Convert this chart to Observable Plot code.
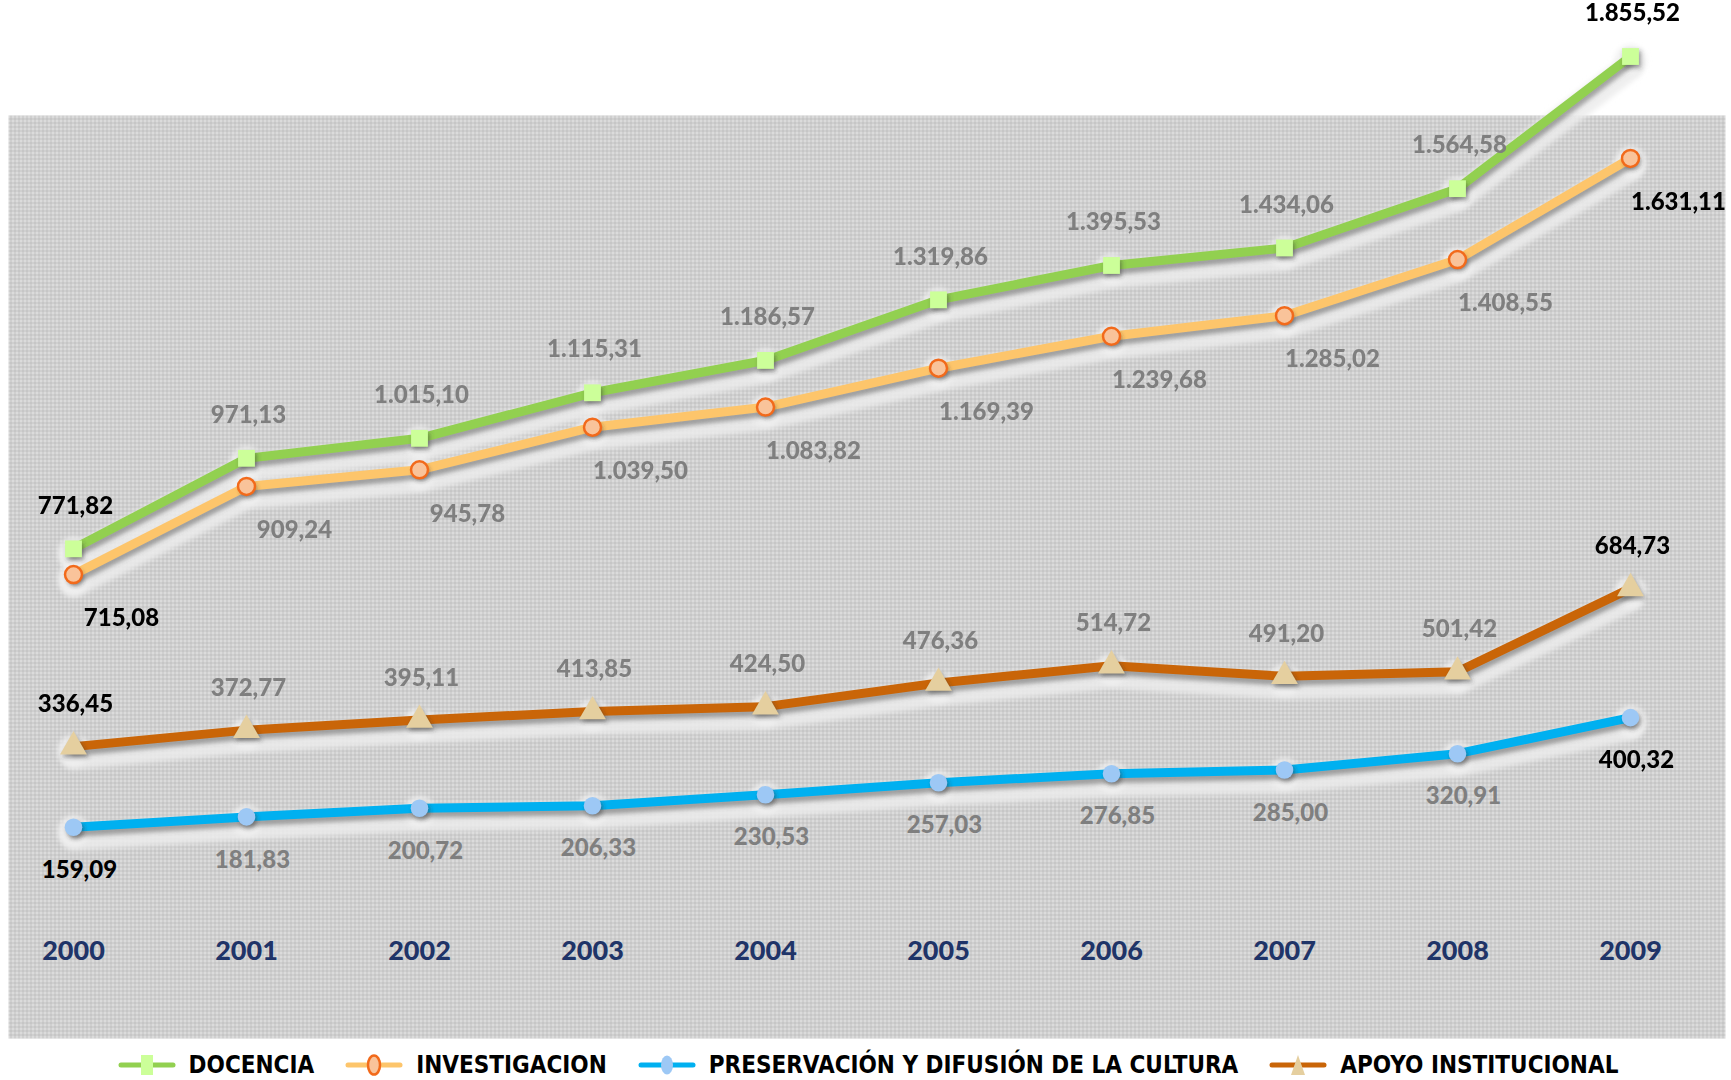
<!DOCTYPE html>
<html><head><meta charset="utf-8">
<script src="https://cdn.jsdelivr.net/npm/d3@7"></script>
<script src="https://cdn.jsdelivr.net/npm/@observablehq/plot@0.6"></script>
<style>
html,body{margin:0;padding:0;background:#fff;width:1731px;height:1080px;overflow:hidden}
#chart svg{display:block;overflow:visible}
#legend{display:flex;justify-content:center;align-items:center;height:50px;font-family:"Liberation Sans Narrow","Arial Narrow","DejaVu Sans Condensed","DejaVu Sans",sans-serif;font-stretch:condensed;font-weight:bold;font-size:24px;color:#000;padding-left:8px}
.item{display:flex;align-items:center;margin:0 17px}
.item svg{margin-right:16px;overflow:visible}
</style></head><body><div id="chart"></div><div id="legend"></div>
<script>
// ---- data ----
const years = [2000, 2001, 2002, 2003, 2004, 2005, 2006, 2007, 2008, 2009];
const seriesNames = ["DOCENCIA", "INVESTIGACION", "PRESERVACIÓN Y DIFUSIÓN DE LA CULTURA", "APOYO INSTITUCIONAL"];
const docencia = [771.82, 971.13, 1015.10, 1115.31, 1186.57, 1319.86, 1395.53, 1434.06, 1564.58, 1855.52];
const investigacion = [715.08, 909.24, 945.78, 1039.50, 1083.82, 1169.39, 1239.68, 1285.02, 1408.55, 1631.11];
const preservacion = [159.09, 181.83, 200.72, 206.33, 230.53, 257.03, 276.85, 285.00, 320.91, 400.32];
const apoyo = [336.45, 372.77, 395.11, 413.85, 424.50, 476.36, 514.72, 491.20, 501.42, 684.73];

// ---- styles ----
const seriesValues = [docencia, investigacion, preservacion, apoyo];
const styles = [
  {line: "#92d050", symbol: "square", r: 9.5, fill: "#ccff99", stroke: "none", sw: 0, ldx: 2, ldy: -43},
  {line: "#fdc56b", symbol: "circle", r: 8.5, fill: "#f9c39a", stroke: "#f26a1b", sw: 2.5, ldx: 48, ldy: 44},
  {line: "#00b0f0", symbol: "circle", r: 8.8, fill: "#9dc8f5", stroke: "none", sw: 0, ldx: 6, ldy: 43},
  {line: "#c96508", symbol: "triangle", r: 10, fill: "#e5cf9f", stroke: "none", sw: 0, ldx: 2, ldy: -42}
];
const BG = "#cdcdcd", HALO = "#ececec", HALODOT = "#f0f0f0", SHLINE = "#555555", SHDOT = "#333333";

const loc = d3.formatLocale({decimal: ",", thousands: ".", grouping: [3], currency: ["", ""]});
const fmt = loc.format(",.2f");

const tables = seriesNames.map((name, s) =>
  years.map((year, i) => ({serie: name, year, value: seriesValues[s][i], i}))
);

const marks = [Plot.frame({fill: BG, stroke: "none"})];
for (const t of tables) {
  marks.push(Plot.line(t, {x: "year", y: "value", stroke: HALO, strokeWidth: 26, strokeOpacity: 0.85, dy: 10, strokeLinejoin: "round", strokeLinecap: "round"}));
}
for (const t of tables) {
  marks.push(Plot.dot(t, {x: "year", y: "value", r: 16, fill: HALODOT, fillOpacity: 0.85, dy: 4}));
}
tables.forEach((t, s) => {
  marks.push(Plot.line(t, {x: "year", y: "value", stroke: SHLINE, strokeOpacity: 0.5, strokeWidth: 9, dx: 1, dy: 5}));
  marks.push(Plot.line(t, {x: "year", y: "value", stroke: styles[s].line, strokeWidth: 9, strokeLinejoin: "round"}));
});
tables.forEach((t, s) => {
  const st = styles[s];
  marks.push(Plot.dot(t, {x: "year", y: "value", symbol: st.symbol, r: st.r, fill: SHDOT, fillOpacity: 0.45, dx: 2, dy: 3}));
  marks.push(Plot.dot(t, {x: "year", y: "value", symbol: st.symbol, r: st.r, fill: st.fill, stroke: st.stroke, strokeWidth: st.sw}));
});
tables.forEach((t, s) => {
  const st = styles[s];
  const common = {x: "year", y: "value", text: d => fmt(d.value), dx: st.ldx, dy: st.ldy, fontSize: 24, fontWeight: 900, fontFamily: "Lato, Carlito, Calibri, sans-serif"};
  marks.push(Plot.text(t.filter(d => d.i > 0 && d.i < years.length - 1), {...common, fill: "#7f7f7f"}));
  marks.push(Plot.text(t.filter(d => d.i === 0 || d.i === years.length - 1), {...common, fill: "#000"}));
});
marks.push(Plot.axisX({anchor: "bottom", tickSize: 0, tickPadding: 0, dy: -98, fontSize: 27, fontWeight: 900, fill: "#1f3468", fontFamily: "Lato, Carlito, Calibri, sans-serif", tickFormat: d => String(d), label: null}));

const chart = Plot.plot({
  width: 1731, height: 1040,
  marginTop: 115, marginBottom: 2, marginLeft: 8, marginRight: 6,
  x: {type: "point", domain: years, range: [73, 1630], padding: 0, axis: null},
  y: {domain: [0, 1855.52], range: [899, 56], axis: null},
  style: {background: "transparent", overflow: "visible"},
  marks
});

// decorations: dot pattern + blur filters
const svg = d3.select(chart);
const defs = svg.insert("defs", ":first-child");
const pat = defs.append("pattern").attr("id", "dots").attr("width", 4).attr("height", 4).attr("patternUnits", "userSpaceOnUse");
pat.append("rect").attr("width", 4).attr("height", 4).attr("fill", "#c6c6c6");
pat.append("rect").attr("width", 4).attr("height", 1).attr("fill", "#d8d8d8");
pat.append("rect").attr("width", 1).attr("height", 4).attr("fill", "#d8d8d8");
pat.append("rect").attr("width", 1).attr("height", 1).attr("fill", "#f6f6f6");
function addFilter(id, sd) {
  defs.append("filter").attr("id", id).attr("filterUnits", "userSpaceOnUse")
    .attr("x", -50).attr("y", -50).attr("width", 1831).attr("height", 1140)
    .append("feGaussianBlur").attr("stdDeviation", sd);
}
addFilter("blurHalo", 2.5);
addFilter("blurShadow", 2);
svg.selectAll(`[fill="${BG}"]`).attr("fill", "url(#dots)");
svg.selectAll(`g[stroke="${HALO}"], g[fill="${HALODOT}"]`).attr("filter", "url(#blurHalo)");
svg.selectAll(`g[stroke="${SHLINE}"], g[fill="${SHDOT}"]`).attr("filter", "url(#blurShadow)");

document.getElementById("chart").appendChild(chart);

// ---- legend ----
const legend = d3.select("#legend");
seriesNames.forEach((name, s) => {
  const st = styles[s];
  const item = legend.append("div").attr("class", "item");
  const g = item.append("svg").attr("width", 52).attr("height", 24);
  g.append("line").attr("x1", 0).attr("x2", 52).attr("y1", 12).attr("y2", 12).attr("stroke", st.line).attr("stroke-width", 5).attr("stroke-linecap", "round");
  if (st.symbol === "square") g.append("rect").attr("x", 20).attr("y", 2).attr("width", 12).attr("height", 20).attr("fill", st.fill);
  else if (st.symbol === "circle") g.append("ellipse").attr("cx", 26).attr("cy", 12).attr("rx", 6).attr("ry", 9.5).attr("fill", st.fill).attr("stroke", st.stroke === "none" ? null : st.stroke).attr("stroke-width", st.sw);
  else g.append("path").attr("d", "M26,2L33,22L19,22Z").attr("fill", st.fill);
  item.append("span").text(name);
});
</script>
</body></html>
